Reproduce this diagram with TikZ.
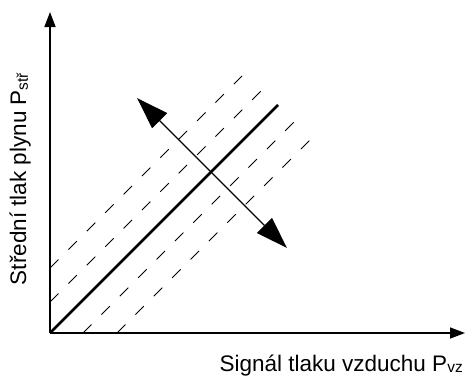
\documentclass[tikz,border=0pt]{standalone}
\usepackage{fontspec}
\setmainfont{Liberation Sans}
\usetikzlibrary{arrows.meta}
\newcommand{\subsm}[1]{\raisebox{-0.15ex}{\fontsize{15.5}{15.5}\selectfont #1}}
\begin{document}
\begin{tikzpicture}[x=1pt,y=-1pt,
  axis/.style={line width=1.5pt,-{Triangle[length=15pt,width=11pt]}},
  mainline/.style={line width=2.6pt},
  dline/.style={line width=0.8pt,dash pattern=on 12pt off 14pt},
  dirarrow/.style={line width=1.3pt,{Triangle[length=32pt,width=21pt]}-{Triangle[length=32pt,width=21pt]}},
  lbl/.style={font=\fontsize{22.5}{22.5}\selectfont, inner sep=0pt}]
\useasboundingbox (0,0) rectangle (465,375);
\coordinate (O) at (50,333);
\coordinate (Ytop) at (50,12);
\coordinate (Xend) at (465,333);
\draw[axis] (O) -- (Ytop);
\draw[axis] (O) -- (Xend);
% main line
\coordinate (M2) at (278,105);
\draw[mainline] (O) -- (M2);
% dashed lines
\coordinate (A1) at (50,268); \coordinate (A2) at (242,76);
\coordinate (B1) at (50,302); \coordinate (B2) at (263,89);
\coordinate (C1) at (83,333); \coordinate (C2) at (296,120);
\coordinate (D1) at (117,333); \coordinate (D2) at (310,140);
\draw[dline] (A1) -- (A2);
\draw[dline] (B1) -- (B2);
\draw[dline] (C1) -- (C2);
\draw[dline] (D1) -- (D2);
% direction arrow
\coordinate (T1) at (137,98);
\coordinate (T2) at (287,248);
\draw[dirarrow] (T1) -- (T2);
% labels
\node[lbl, anchor=base east] (xl) at (463,371) {Signál tlaku vzduchu P\subsm{vz}};
\node[lbl, rotate=90, anchor=base] (yl) at (26,179) {Střední tlak plynu P\subsm{stř}};
\end{tikzpicture}
\end{document}
